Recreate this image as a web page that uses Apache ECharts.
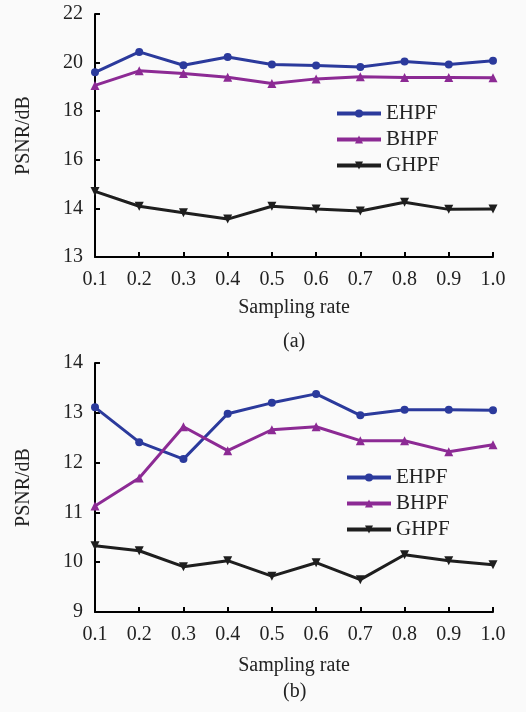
<!DOCTYPE html>
<html>
<head>
<meta charset="utf-8">
<script src="https://cdn.jsdelivr.net/npm/echarts@6/dist/echarts.min.js"></script>
<style>
  html, body { margin: 0; padding: 0; background: #fafafa; }
  #chart { width: 526px; height: 712px; }
</style>
</head>
<body>
<div id="chart"></div>
<script>
// sampling rates (x categories)
const rates = ['0.1', '0.2', '0.3', '0.4', '0.5', '0.6', '0.7', '0.8', '0.9', '1.0'];

// (a) values
const ehpfA = [19.6, 20.44, 19.89, 20.23, 19.92, 19.88, 19.82, 20.05, 19.92, 20.08];
const bhpfA = [19.06, 19.66, 19.55, 19.4, 19.14, 19.33, 19.42, 19.39, 19.39, 19.38];
const ghpfA = [14.7, 14.09, 13.82, 13.56, 14.09, 13.98, 13.89, 14.25, 13.96, 13.98];
// (a) y tick labels as printed (bottom one reads 13)
const yTicksA = ['13', '14', '16', '18', '20', '22'];

// (b) values
const ehpfB = [13.11, 12.41, 12.07, 12.98, 13.2, 13.38, 12.95, 13.06, 13.06, 13.05];
const bhpfB = [11.13, 11.69, 12.72, 12.24, 12.66, 12.72, 12.44, 12.44, 12.22, 12.36];
const ghpfB = [10.33, 10.23, 9.91, 10.03, 9.72, 9.99, 9.65, 10.15, 10.03, 9.95];

const names = ['EHPF', 'BHPF', 'GHPF'];
const colors = ['#2b3a9c', '#8c2a94', '#1e1e1e'];
const font = 'Liberation Serif';

const chart = echarts.init(document.getElementById('chart'));

function xAxis(gridIndex, nameGap) {
  return {
    type: 'category',
    gridIndex: gridIndex,
    data: rates,
    boundaryGap: false,
    name: 'Sampling rate',
    nameLocation: 'middle',
    nameGap: nameGap,
    nameTextStyle: { fontFamily: font, fontSize: 20, color: '#222' },
    axisLine: { lineStyle: { color: '#000', width: 2 } },
    axisTick: { inside: true, length: 5, lineStyle: { color: '#000', width: 2 } },
    axisLabel: { fontFamily: font, fontSize: 20, color: '#222', margin: 13 }
  };
}

function yAxis(gridIndex, min, max, interval, formatter) {
  return {
    type: 'value',
    gridIndex: gridIndex,
    min: min,
    max: max,
    interval: interval,
    name: 'PSNR/dB',
    nameLocation: 'middle',
    nameGap: 61,
    nameTextStyle: { fontFamily: font, fontSize: 20, color: '#222' },
    splitLine: { show: false },
    axisLine: { show: true, lineStyle: { color: '#000', width: 2 } },
    axisTick: { show: true, inside: true, length: 5, lineStyle: { color: '#000', width: 2 } },
    axisLabel: { fontFamily: font, fontSize: 20, color: '#222', margin: 12, formatter: formatter }
  };
}

function series(idx, data, name, color) {
  const sym = [
    { symbol: 'circle', symbolSize: 8, symbolRotate: 0 },
    { symbol: 'triangle', symbolSize: 9, symbolRotate: 0 },
    { symbol: 'triangle', symbolSize: 9, symbolRotate: 180 }
  ][names.indexOf(name)];
  return Object.assign({
    name: name,
    type: 'line',
    xAxisIndex: idx,
    yAxisIndex: idx,
    data: data,
    showAllSymbol: true,
    lineStyle: { color: color, width: 3 },
    itemStyle: { color: color },
    animation: false
  }, sym);
}

const legendStyle = {
  orient: 'vertical',
  itemWidth: 44,
  itemHeight: 10,
  itemGap: 5,
  lineStyle: { width: 4 },
  textStyle: { fontFamily: font, fontSize: 21, color: '#222' },
  data: names
};

chart.setOption({
  backgroundColor: '#fafafa',
  color: colors,
  title: [
    { text: '(a)', left: 278, top: 327, textStyle: { fontFamily: font, fontSize: 20, fontWeight: 'normal', color: '#222' } },
    { text: '(b)', left: 278, top: 677, textStyle: { fontFamily: font, fontSize: 20, fontWeight: 'normal', color: '#222' } }
  ],
  legend: [
    Object.assign({ left: 330, top: 98 }, legendStyle),
    Object.assign({ left: 340, top: 462 }, legendStyle)
  ],
  grid: [
    { left: 95, right: 33, top: 14, height: 243 },
    { left: 95, right: 33, top: 363, height: 249 }
  ],
  xAxis: [xAxis(0, 41), xAxis(1, 44)],
  yAxis: [
    yAxis(0, 12, 22, 2, v => yTicksA[(v - 12) / 2]),
    yAxis(1, 9, 14, 1)
  ],
  series: [
    series(0, ehpfA, 'EHPF', colors[0]),
    series(0, bhpfA, 'BHPF', colors[1]),
    series(0, ghpfA, 'GHPF', colors[2]),
    series(1, ehpfB, 'EHPF', colors[0]),
    series(1, bhpfB, 'BHPF', colors[1]),
    series(1, ghpfB, 'GHPF', colors[2])
  ]
});
</script>
</body>
</html>
